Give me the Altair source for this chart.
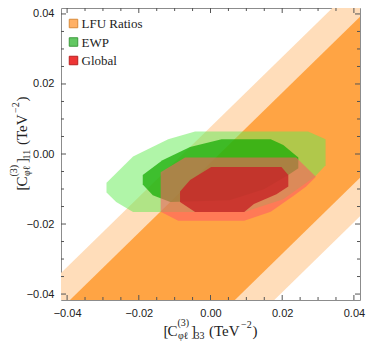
import altair as alt
import pandas as pd

# ---------------- data ----------------
x_domain = [-0.0417, 0.0417]
y_domain = [-0.0417, 0.0417]
major_ticks = [-0.04, -0.02, 0.0, 0.02, 0.04]
minor_ticks = [-0.035, -0.03, -0.025, -0.015, -0.01, -0.005,
               0.005, 0.01, 0.015, 0.025, 0.03, 0.035]

# LFU ratio bands  y = x + intercept  (upper, lower intercept)
lfu_2s = [0.0077, -0.0595]
lfu_1s = [-0.0025, -0.0485]
band_x = [-0.07, 0.07]

# EWP regions
ewp_2s_x = [-0.0043, 0.0272, 0.0321, 0.0321, 0.0291, 0.0203, 0.0094, -0.0216, -0.0263, -0.0290, -0.0290, -0.0216, -0.0118]
ewp_2s_y = [0.0064, 0.0064, 0.0042, -0.0032, -0.0065, -0.0129, -0.0166, -0.0166, -0.0137, -0.0110, -0.0082, -0.0007, 0.0042]
ewp_1s_x = [0.0031, 0.0168, 0.0203, 0.0245, 0.0245, 0.0217, 0.0149, 0.0053, -0.0112, -0.0161, -0.0189, -0.0189, -0.0134, -0.0057]
ewp_1s_y = [0.0042, 0.0042, 0.0026, -0.0010, -0.0041, -0.0060, -0.0101, -0.0132, -0.0137, -0.0118, -0.0087, -0.0060, -0.0018, 0.0020]

# Global fit regions
glob_2s_x = [-0.0139, -0.0071, 0.0239, 0.0294, 0.0267, 0.0231, 0.0168, 0.0094, -0.0090, -0.0139]
glob_2s_y = [-0.0052, -0.0010, -0.0010, -0.0065, -0.0093, -0.0120, -0.0165, -0.0191, -0.0191, -0.0165]
glob_1s_x = [0.0002, 0.0198, 0.0217, 0.0217, 0.0184, 0.0121, 0.0094, -0.0043, -0.0085, -0.0085, -0.0057]
glob_1s_y = [-0.0037, -0.0037, -0.0060, -0.0093, -0.0115, -0.0143, -0.0166, -0.0166, -0.0137, -0.0107, -0.0074]

legend_labels = ["LFU Ratios", "EWP", "Global"]
legend_fill = ["#FFB066", "#62C862", "#EE3535"]
legend_stroke = ["#D98A3A", "#3E9A3E", "#B82020"]

# ---------------- layout ----------------
W, H = 299, 292
SERIF = "Liberation Serif"
SANS = "Liberation Sans"
TICK = "#555555"

xs = alt.Scale(domain=x_domain, nice=False, zero=False)
ys = alt.Scale(domain=y_domain, nice=False, zero=False)
xaxis = alt.Axis(values=major_ticks, format=".2f", title="", ticks=False, domain=False,
                 grid=False, labelFont=SANS, labelFontSize=11, labelColor="#222222",
                 labelPadding=7, labelFlush=False)
yaxis = alt.Axis(values=major_ticks, format=".2f", title="", ticks=False, domain=False,
                 grid=False, labelFont=SANS, labelFontSize=11, labelColor="#222222",
                 labelPadding=7, labelFlush=False)

rows = []
for name, (hi, lo) in [("2s", lfu_2s), ("1s", lfu_1s)]:
    for xv in band_x:
        rows.append({"band": name, "x": xv, "y_hi": xv + hi, "y_lo": xv + lo})
band_df = pd.DataFrame(rows)

prow = []
for name, xs_, ys_ in [("ewp2", ewp_2s_x, ewp_2s_y), ("ewp1", ewp_1s_x, ewp_1s_y),
                       ("glob2", glob_2s_x, glob_2s_y), ("glob1", glob_1s_x, glob_1s_y)]:
    for i, (a, b) in enumerate(zip(xs_, ys_)):
        prow.append({"region": name, "i": i, "x": a, "y": b})
poly_df = pd.DataFrame(prow)


def band(name, color):
    return alt.Chart(band_df).transform_filter(alt.datum.band == name).mark_area(
        color=color, clip=True, orient="vertical", opacity=1
    ).encode(
        x=alt.X("x:Q", scale=xs, axis=xaxis),
        y=alt.Y("y_hi:Q", scale=ys, axis=yaxis),
        y2="y_lo:Q",
    )


def poly(name, color, opacity):
    return alt.Chart(poly_df).transform_filter(alt.datum.region == name).mark_line(
        interpolate="linear-closed", fill=color, fillOpacity=opacity,
        strokeWidth=0, strokeOpacity=0
    ).encode(
        x=alt.X("x:Q", scale=xs, axis=xaxis),
        y=alt.Y("y:Q", scale=ys, axis=yaxis),
        order="i:Q",
    )


layers = [
    band("2s", "#FFDDBA"),
    band("1s", "#FFA444"),
    poly("ewp2", "#61EB51", 0.5),
    poly("ewp1", "#18AC05", 0.75),
    poly("glob2", "#FF5A64", 0.56),
    poly("glob1", "#C82828", 0.85),
]

# frame ticks (inward, all four sides)
for vals, ln in [(major_ticks, 5), (minor_ticks, 3)]:
    tdf = pd.DataFrame({"t": vals})
    layers.append(alt.Chart(tdf).mark_rule(color=TICK, strokeWidth=1).encode(
        x=alt.X("t:Q", scale=xs, axis=xaxis), y=alt.value(H), y2=alt.value(H - ln)))
    layers.append(alt.Chart(tdf).mark_rule(color=TICK, strokeWidth=1).encode(
        x=alt.X("t:Q", scale=xs, axis=xaxis), y=alt.value(0), y2=alt.value(ln)))
    layers.append(alt.Chart(tdf).mark_rule(color=TICK, strokeWidth=1).encode(
        y=alt.Y("t:Q", scale=ys, axis=yaxis), x=alt.value(0), x2=alt.value(ln)))
    layers.append(alt.Chart(tdf).mark_rule(color=TICK, strokeWidth=1).encode(
        y=alt.Y("t:Q", scale=ys, axis=yaxis), x=alt.value(W), x2=alt.value(W - ln)))

# legend
for k, (lab, fc, sc) in enumerate(zip(legend_labels, legend_fill, legend_stroke)):
    yy = 15.5 + 18.5 * k
    ldf = pd.DataFrame({"label": [lab]})
    layers.append(alt.Chart(ldf).mark_square(size=72, fill=fc, stroke=sc, strokeWidth=1, opacity=1).encode(
        x=alt.value(12.5), y=alt.value(yy)))
    layers.append(alt.Chart(ldf).mark_text(align="left", baseline="middle", font=SERIF, fontSize=13,
                                           color="#222222").encode(
        x=alt.value(20.5), y=alt.value(yy + 0.5), text="label:N"))

# axis titles built from pieces: (text, advance offset, raise, font size)
def title_pieces(sub):
    return [("[", 0, 0, 15), ("C", 4, 0, 15), ("(3)", 14, 10, 10), ("φℓ", 14.5, -3, 10),
            ("]", 27.5, 0, 15), (sub, 31, -2.5, 10), ("(TeV", 45.5, 0, 15),
            ("−2", 77.5, 8, 10), (")", 89, 0, 15)]

x_start, x_base = W / 2 - 47, H + 36
for txt, dx, rz, fs in title_pieces("33"):
    tdf = pd.DataFrame({"s": [txt]})
    layers.append(alt.Chart(tdf).mark_text(align="left", baseline="alphabetic", font=SERIF,
                                           fontSize=fs, color="#222222").encode(
        x=alt.value(x_start + dx), y=alt.value(x_base - rz), text="s:N"))

y_start, y_base = H / 2 - 10 + 46.5, -34
for txt, dx, rz, fs in title_pieces("11"):
    tdf = pd.DataFrame({"s": [txt]})
    layers.append(alt.Chart(tdf).mark_text(align="left", baseline="alphabetic", font=SERIF,
                                           fontSize=fs, color="#222222", angle=270).encode(
        x=alt.value(y_base - rz), y=alt.value(y_start - dx), text="s:N"))

chart = alt.layer(*layers).properties(
    width=W, height=H,
    autosize=alt.AutoSizeParams(type="none"),
    padding={"left": 53, "top": 0, "right": 6, "bottom": 42},
).configure_view(stroke="#8c8c8c", strokeWidth=1)

chart.save("out.html", embed_options={"renderer": "svg", "actions": False})
